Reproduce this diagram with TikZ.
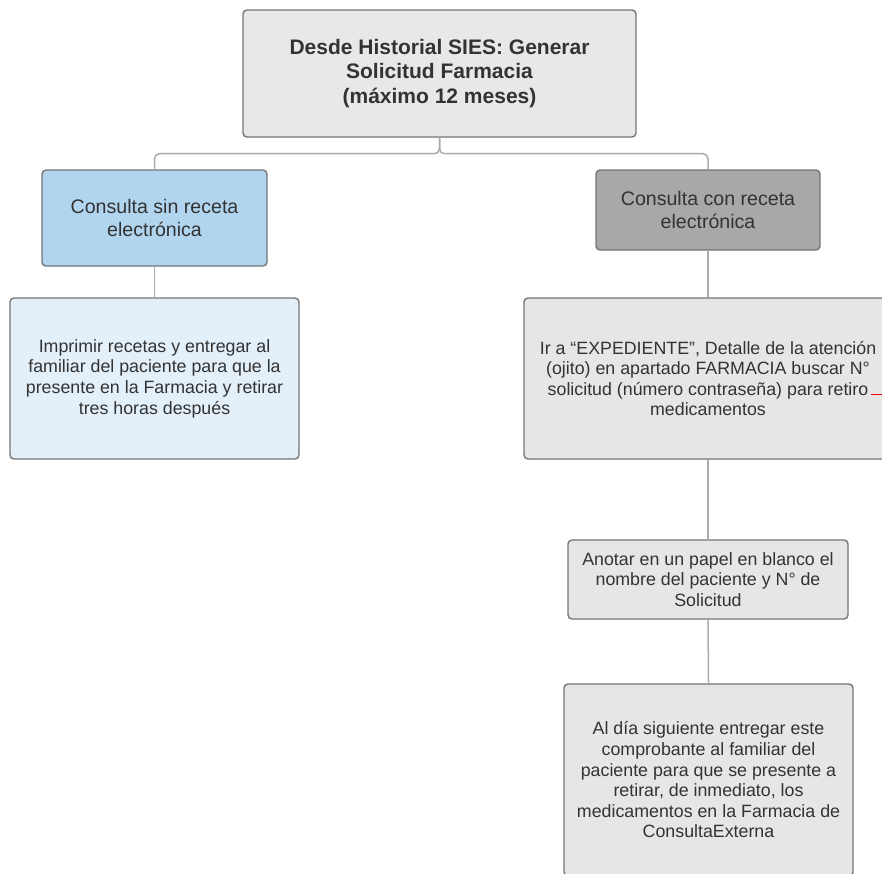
\documentclass[tikz,border=0pt]{standalone}
\usepackage{fontspec}
\setmainfont{Liberation Sans}
\definecolor{txt}{HTML}{333333}
\definecolor{bord}{HTML}{757575}
\definecolor{conn}{HTML}{ABABAB}
\definecolor{topfill}{HTML}{E8E8E8}
\definecolor{bluefill}{HTML}{B1D5EF}
\definecolor{lbluefill}{HTML}{E3F0FA}
\definecolor{darkfill}{HTML}{A8A8A8}
\definecolor{greyfill}{HTML}{E6E6E6}
\begin{document}
\begin{tikzpicture}[x=1pt,y=-1pt,
  box/.style={draw=bord, line width=1.4pt, rounded corners=4pt, align=center,
    text=txt, inner sep=0pt, font=\fontsize{17.8}{20.6}\selectfont},
  head/.style={box, font=\fontsize{19.6}{22.8}\selectfont},
  link/.style={draw=conn, line width=1.5pt, rounded corners=5pt}]
\useasboundingbox (0,0) rectangle (882,873);
\clip (0,0) rectangle (882,873);
\fill[white] (0,0) rectangle (882,873);

\node[box, fill=topfill, minimum width=393pt, minimum height=127pt,
  font=\fontsize{21}{24.8}\selectfont\bfseries] (top) at (439.5,73.5)
  {Desde Historial SIES: Generar\\Solicitud Farmacia\\(máximo 12 meses)};

\node[head, fill=bluefill, minimum width=225pt, minimum height=96pt] (l1) at (154.5,218)
  {Consulta sin receta\\electrónica};
\node[box, fill=lbluefill, minimum width=289pt, minimum height=161pt] (l2) at (154.5,378.5)
  {Imprimir recetas y entregar al\\familiar del paciente para que la\\presente en la Farmacia y retirar\\tres horas después};

\node[head, fill=darkfill, minimum width=224pt, minimum height=80pt] (r1) at (708,210)
  {Consulta con receta\\electrónica};
\node[box, fill=greyfill, minimum width=368pt, minimum height=161pt] (r2) at (708,378.5)
  {Ir a “EXPEDIENTE”, Detalle de la atención\\(ojito) en apartado FARMACIA buscar N°\\solicitud (número contraseña) para retiro\\medicamentos};
\node[box, fill=greyfill, minimum width=280pt, minimum height=79pt] (r3) at (708,579.5)
  {Anotar en un papel en blanco el\\nombre del paciente y N° de\\Solicitud};
\node[box, fill=greyfill, minimum width=289pt, minimum height=192pt] (r4) at (708.5,780)
  {Al día siguiente entregar este\\comprobante al familiar del\\paciente para que se presente a\\retirar, de inmediato, los\\medicamentos en la Farmacia de\\ConsultaExterna};

\draw[link] (top.south) -- ++(0,16) -| (l1.north);
\draw[link] (top.south) -- ++(0,16) -| (r1.north);
\draw[link] (l1.south) -- (l2.north);
\draw[link] (r1.south) -- (r2.north);
\draw[link] (r2.south) -- (r3.north);
\draw[link] (r3.south) -- (r4.north);

\coordinate (rm1) at (871,394);
\coordinate (rm2) at (882,394);
\draw[red, line width=1pt] (rm1) -- (rm2);
\end{tikzpicture}
\end{document}
